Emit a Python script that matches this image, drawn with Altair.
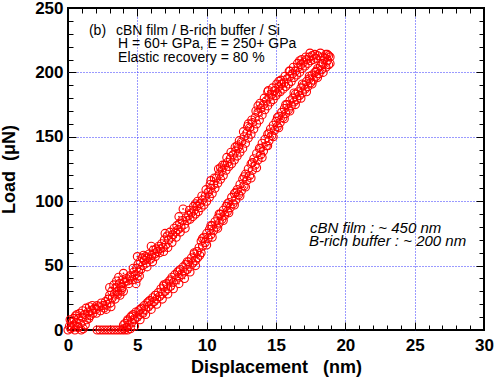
import altair as alt
import pandas as pd

# ---- data ----
load_x = [0.0, 0.1, 0.2, 0.25, 0.3, 0.4, 0.45, 0.55, 0.6, 0.7,
          0.75, 0.85, 0.9, 1.0, 1.05, 1.1, 1.2, 1.3, 1.35, 1.45,
          1.55, 1.6, 1.7, 1.8, 1.9, 2.0, 2.1, 2.2, 2.35, 2.5,
          2.6, 2.7, 2.8, 2.9, 3.0, 3.05, 3.15, 3.2, 3.3, 3.35,
          3.45, 3.5, 3.55, 3.65, 3.7, 3.75, 3.8, 3.85, 3.95, 4.05,
          4.2, 4.3, 4.45, 4.55, 4.65, 4.75, 4.85, 4.95, 5.0, 5.05,
          5.1, 5.2, 5.25, 5.35, 5.4, 5.5, 5.6, 5.65, 5.75, 5.85,
          5.95, 6.05, 6.15, 6.25, 6.35, 6.45, 6.55, 6.65, 6.75, 6.85,
          6.95, 7.05, 7.15, 7.25, 7.35, 7.45, 7.55, 7.65, 7.75, 7.85,
          7.95, 8.05, 8.15, 8.25, 8.3, 8.4, 8.5, 8.6, 8.7, 8.8,
          8.9, 9.0, 9.1, 9.2, 9.3, 9.4, 9.5, 9.6, 9.7, 9.8,
          9.9, 10.0, 10.1, 10.2, 10.3, 10.4, 10.5, 10.6, 10.7, 10.8,
          10.9, 11.0, 11.1, 11.2, 11.3, 11.4, 11.5, 11.6, 11.7, 11.8,
          11.9, 12.0, 12.1, 12.2, 12.3, 12.4, 12.5, 12.6, 12.7, 12.8,
          12.9, 13.0, 13.1, 13.2, 13.3, 13.4, 13.5, 13.6, 13.7, 13.8,
          13.9, 14.0, 14.1, 14.2, 14.3, 14.4, 14.5, 14.6, 14.7, 14.8,
          14.9, 15.0, 15.1, 15.2, 15.3, 15.4, 15.5, 15.6, 15.7, 15.8,
          15.9, 16.0, 16.1, 16.2, 16.3, 16.4, 16.5, 16.6, 16.7, 16.8,
          16.9, 17.0, 17.1, 17.2, 17.3, 17.4, 17.5, 17.6, 17.7, 17.8,
          17.9, 18.0, 18.2, 18.4, 18.6, 18.8]
load_y = [0, 3, 1, 6, 2, 9, 4, 11, 6, 2,
          9, 13, 5, 10, 15, 1, 12, 17, 8, 14,
          18, 11, 15, 13, 17, 16, 19, 18, 15, 19,
          17, 22, 20, 24, 27, 21, 30, 25, 35, 28,
          33, 38, 30, 41, 36, 27, 34, 31, 39, 37,
          40, 38, 42, 41, 39, 45, 43, 48, 40, 51,
          45, 53, 47, 56, 50, 54, 57, 52, 56, 59,
          55, 58, 62, 59, 63, 61, 65, 63, 67, 64,
          70, 66, 73, 70, 76, 72, 74, 79, 76, 81,
          78, 83, 80, 85, 94, 82, 87, 85, 89, 86,
          91, 88, 93, 90, 96, 92, 98, 95, 101, 97,
          104, 100, 107, 103, 110, 106, 113, 110, 118, 114,
          121, 117, 124, 120, 128, 124, 130, 127, 133, 129,
          136, 132, 139, 135, 142, 138, 146, 141, 150, 145,
          153, 149, 157, 152, 161, 156, 165, 160, 169, 163,
          172, 167, 175, 171, 178, 174, 181, 177, 183, 179,
          186, 182, 184, 189, 185, 191, 187, 192, 189, 195,
          191, 197, 193, 199, 196, 201, 198, 204, 200, 206,
          203, 208, 205, 210, 207, 212, 209, 213, 210, 214,
          211, 213, 215, 212, 214, 213]

# extra scattered loading points (outer edge of the band)
load2_x = [0.15, 0.5, 0.65, 0.95, 1.25, 1.5, 1.75, 2.05, 2.4, 2.75,
           3.1, 3.4, 3.6, 3.9, 4.0, 4.4, 4.7, 4.9, 5.15, 5.45,
           5.7, 6.1, 6.3, 6.6, 6.9, 7.2, 7.5, 7.8, 8.1, 8.45,
           8.75, 9.05, 9.35, 9.65, 9.95, 10.25, 10.55, 10.85, 11.15, 11.45,
           11.75, 12.05, 12.35, 12.65, 12.95, 13.25, 13.55, 13.85, 14.15, 14.45,
           14.75, 15.05, 15.35, 15.65, 15.95, 16.25, 16.55, 16.85, 17.15, 17.45,
           12.2, 13.0, 13.7, 14.4, 15.2, 16.0, 16.7, 10.3, 11.0, 9.2,
           8.0, 7.0, 6.0, 5.0, 4.0, 3.0]
load2_y = [8, 0, 12, 0, 4, 9, 19, 13, 21, 16,
           18, 24, 28, 33, 30, 36, 48, 36, 42, 58,
           49, 53, 57, 60, 61, 64, 68, 72, 76, 79,
           93, 96, 100, 104, 109, 113, 118, 125, 128, 134,
           138, 142, 147, 154, 158, 163, 170, 176, 180, 186,
           188, 191, 194, 197, 201, 204, 207, 210, 212, 215,
           143, 160, 174, 185, 193, 201, 209, 116, 126, 98,
           88, 75, 65, 57, 44, 33]

unload_x = [18.9, 18.7, 18.8, 18.5, 18.6, 18.4, 18.3, 18.2, 18.1, 18.0,
            17.9, 17.8, 17.7, 17.6, 17.5, 17.4, 17.3, 17.2, 17.1, 17.0,
            16.9, 16.8, 16.7, 16.6, 16.5, 16.4, 16.3, 16.2, 16.1, 16.0,
            15.9, 15.8, 15.7, 15.6, 15.5, 15.4, 15.3, 15.2, 15.1, 15.0,
            14.9, 14.8, 14.7, 14.6, 14.5, 14.4, 14.3, 14.2, 14.1, 14.0,
            13.9, 13.8, 13.7, 13.6, 13.5, 13.4, 13.3, 13.2, 13.1, 13.0,
            12.9, 12.8, 12.7, 12.6, 12.5, 12.4, 12.3, 12.2, 12.1, 12.0,
            11.9, 11.8, 11.7, 11.6, 11.5, 11.4, 11.3, 11.2, 11.1, 11.0,
            10.9, 10.8, 10.7, 10.6, 10.5, 10.4, 10.3, 10.2, 10.1, 10.0,
            9.9, 9.8, 9.7, 9.6, 9.5, 9.45, 9.35, 9.3, 9.2, 9.1,
            9.0, 8.9, 8.8, 8.7, 8.6, 8.5, 8.4, 8.3, 8.2, 8.1,
            8.0, 7.9, 7.8, 7.7, 7.6, 7.5, 7.4, 7.3, 7.2, 7.1,
            7.0, 6.9, 6.8, 6.7, 6.6, 6.5, 6.4, 6.3, 6.2, 6.1,
            6.0, 5.9, 5.8, 5.7, 5.6, 5.5, 5.4, 5.3, 5.2, 5.1,
            5.0, 4.9, 4.8, 4.7, 4.6, 4.5, 4.4, 4.3, 4.2, 4.1,
            4.0, 4.3, 4.1, 3.9, 3.7, 3.5, 3.3, 3.1, 2.9, 2.7,
            2.5, 2.3, 2.1]
unload_y = [212, 209, 206, 211, 204, 207, 202, 205, 199, 203,
            197, 200, 194, 198, 192, 195, 189, 193, 187, 190,
            184, 188, 182, 185, 179, 183, 177, 180, 174, 178,
            171, 175, 168, 172, 165, 169, 161, 166, 158, 162,
            155, 159, 151, 156, 147, 152, 143, 148, 139, 145,
            136, 141, 132, 137, 128, 133, 124, 129, 120, 125,
            116, 121, 112, 117, 108, 113, 105, 109, 101, 106,
            98, 103, 95, 99, 92, 96, 89, 93, 86, 90,
            83, 87, 80, 84, 77, 81, 74, 78, 71, 75,
            68, 72, 65, 69, 58, 64, 56, 61, 54, 59,
            52, 56, 49, 53, 47, 51, 45, 49, 43, 47,
            41, 45, 39, 43, 37, 41, 34, 38, 32, 36,
            30, 34, 28, 32, 26, 29, 24, 27, 22, 25,
            20, 23, 18, 21, 16, 19, 13, 17, 12, 15,
            10, 14, 8, 12, 6, 10, 4, 7, 2, 5,
            1, 0, 0, 0, 0, 0, 0, 0, 0, 0,
            0, 0, 0]

# extra scattered unloading points (spread of the band)
unload2_x = [18.9, 18.7, 18.4, 18.0, 17.6, 17.2, 16.8, 16.4, 16.0, 15.6,
             15.2, 14.8, 14.4, 14.0, 13.6, 13.2, 12.8, 12.4, 12.0, 11.6,
             11.2, 10.8, 10.4, 10.0, 9.6, 9.2, 8.8, 8.4, 8.0, 7.6,
             7.2, 6.8, 6.4, 6.0, 5.6, 5.2, 4.8, 4.5,
             18.3, 17.9, 17.4, 16.9, 16.3, 15.7, 15.1, 14.5, 13.9, 13.3,
             12.7, 12.1, 11.5, 10.9, 10.3, 9.7, 9.1, 8.6, 8.0, 7.4,
             6.9, 6.3, 5.8, 5.2, 4.6, 4.3, 4.0]
unload2_y = [207, 214, 200, 196, 191, 185, 180, 175, 170, 164,
             157, 150, 143, 134, 126, 118, 111, 104, 97, 91,
             85, 79, 72, 66, 60, 50, 45, 40, 36, 32,
             28, 24, 20, 16, 12, 8, 3, 1,
             207, 201, 197, 191, 184, 175, 165, 153, 141, 130,
             119, 107, 98, 90, 81, 71, 60, 53, 46, 39,
             35, 27, 22, 16, 11, 8, 4]

x_major = [0, 5, 10, 15, 20, 25, 30]
x_grid = [5, 10, 15, 20, 25]
x_minor = [1, 2, 3, 4, 6, 7, 8, 9, 11, 12, 13, 14, 16, 17, 18, 19, 21, 22, 23, 24, 26, 27, 28, 29]
y_major = [0, 50, 100, 150, 200, 250]
y_grid = [50, 100, 150, 200]
y_minor = [10, 20, 30, 40, 60, 70, 80, 90, 110, 120, 130, 140, 160, 170, 180, 190, 210, 220, 230, 240]

ann_text = ["(b)", "cBN film / B-rich buffer / Si", "H = 60+ GPa, E = 250+ GPa", "Elastic recovery = 80 %"]
ann_x = [1.51, 3.46, 3.61, 3.61]
ann_y = [229.0, 229.0, 218.7, 208.1]
note_text = ["cBN film : ~ 450 nm", "B-rich buffer : ~ 200 nm"]
note_x = [17.45, 17.38]
note_y = [75.5, 65.4]

df = pd.DataFrame({"x": load_x + load2_x + unload_x + unload2_x,
                   "y": load_y + load2_y + unload_y + unload2_y})
ann = pd.DataFrame({"x": ann_x, "y": ann_y, "t": ann_text})
notes = pd.DataFrame({"x": note_x, "y": note_y, "t": note_text})

FONT = "Liberation Sans"
xs = alt.Scale(domain=[0, 30], nice=False, zero=False)
ys = alt.Scale(domain=[0, 250], nice=False, zero=False)


def carrier(xaxis, yaxis):
    return alt.Chart(df).mark_point(opacity=0).encode(
        x=alt.X("x:Q", scale=xs, axis=xaxis, title=None),
        y=alt.Y("y:Q", scale=ys, axis=yaxis, title=None),
    )


def tick_axis(orient, values, size):
    return alt.Axis(orient=orient, values=values, offset=-size, tickSize=size,
                    tickColor="black", tickWidth=1, labels=False, domain=False,
                    grid=False)


grid_layer = carrier(
    alt.Axis(orient="bottom", values=x_grid, grid=True, gridColor="#3535ff",
             gridDash=[1, 2], gridWidth=1, labels=False, ticks=False, domain=False),
    alt.Axis(orient="left", values=y_grid, grid=True, gridColor="#3535ff",
             gridDash=[1, 2], gridWidth=1, labels=False, ticks=False, domain=False),
)

label_layer = alt.Chart(df).mark_point(opacity=0).encode(
    x=alt.X("x:Q", scale=xs, title="Displacement\u00a0\u00a0\u00a0(nm)",
            axis=alt.Axis(orient="bottom", values=x_major, grid=False, ticks=False,
                          domain=False, labelFont=FONT, labelFontWeight="bold",
                          labelFontSize=17, labelColor="black", labelPadding=20,
                          labelBaseline="alphabetic", labelFlush=False,
                          labelOverlap=False, titleFont=FONT, titleFontSize=18,
                          titleFontWeight="bold", titleColor="black", titleX=208,
                          titleY=42.7, titleBaseline="alphabetic",
                          titleAlign="center")),
    y=alt.Y("y:Q", scale=ys, title="Load\u00a0\u00a0(\u03bcN)",
            axis=alt.Axis(orient="left", values=y_major, grid=False, ticks=False,
                          domain=False, labelFont=FONT, labelFontWeight="bold",
                          labelFontSize=17, labelColor="black", labelPadding=5,
                          labelFlush=False, labelOverlap=False, titleFont=FONT,
                          titleFontSize=18, titleFontWeight="bold",
                          titleColor="black", titleAngle=270, titleX=-54,
                          titleY=161, titleBaseline="alphabetic",
                          titleAlign="center")),
)

major_bl = carrier(tick_axis("bottom", x_major, 8), tick_axis("left", y_major, 8))
minor_bl = carrier(tick_axis("bottom", x_minor, 5), tick_axis("left", y_minor, 5))
major_tr = carrier(tick_axis("top", x_major, 8), tick_axis("right", y_major, 8))
minor_tr = carrier(tick_axis("top", x_minor, 5), tick_axis("right", y_minor, 5))

circles = alt.Chart(df).mark_point(shape="circle", filled=False, color="#ff0000",
                                   size=64, strokeWidth=1.1, opacity=1).encode(
    x=alt.X("x:Q", scale=xs, axis=None),
    y=alt.Y("y:Q", scale=ys, axis=None),
)
dots = alt.Chart(df).mark_point(shape="circle", filled=True, color="#ff0000",
                                size=3, opacity=1).encode(
    x=alt.X("x:Q", scale=xs, axis=None),
    y=alt.Y("y:Q", scale=ys, axis=None),
)

ann_layer = alt.Chart(ann).mark_text(font=FONT, fontSize=14, color="black",
                                     align="left", baseline="alphabetic").encode(
    x=alt.X("x:Q", scale=xs, axis=None),
    y=alt.Y("y:Q", scale=ys, axis=None),
    text="t:N",
)
note_layer = alt.Chart(notes).mark_text(font=FONT, fontSize=15, fontStyle="italic",
                                        color="black", align="left",
                                        baseline="alphabetic").encode(
    x=alt.X("x:Q", scale=xs, axis=None),
    y=alt.Y("y:Q", scale=ys, axis=None),
    text="t:N",
)

chart = alt.layer(
    grid_layer, label_layer, major_bl, minor_bl, major_tr, minor_tr,
    circles, dots, ann_layer, note_layer,
).resolve_axis(x="independent", y="independent").properties(
    width=416, height=322,
    autosize=alt.AutoSizeParams(type="none"),
    padding={"left": 68, "top": 8, "right": 10, "bottom": 47},
    background="white",
).configure_view(stroke="black", strokeWidth=2)

chart.save("out.html", embed_options={"renderer": "svg", "actions": False})
